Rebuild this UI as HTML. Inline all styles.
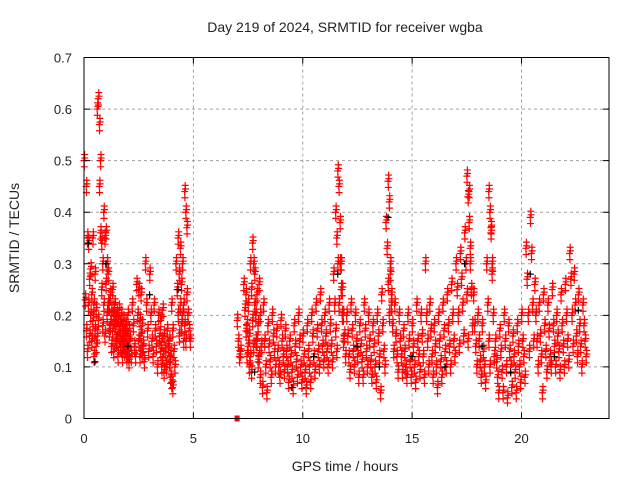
<!DOCTYPE html>
<html><head><meta charset="utf-8"><style>
body{margin:0;background:#fff}
svg{display:block;font-family:"Liberation Sans",sans-serif}
</style></head><body>
<svg id="chart" width="640" height="480" viewBox="0 0 640 480">
<rect width="640" height="480" fill="#fff"/>
<g id="grid"></g>
<g id="marks"></g>
<rect x="84" y="57.5" width="525" height="361" fill="none" stroke="#000" stroke-width="1"/>
<g id="ticks" font-size="13" fill="#222"></g>
<text x="345" y="32" text-anchor="middle" font-size="14" fill="#222">Day 219 of 2024, SRMTID for receiver wgba</text>
<text x="345" y="471" text-anchor="middle" font-size="14" fill="#222">GPS time / hours</text>
<text transform="translate(19,238) rotate(-90)" text-anchor="middle" font-size="14" fill="#222">SRMTID / TECUs</text>
</svg>
<script>
const xTicks=[0,5,10,15,20];
const yTicks=[0,0.1,0.2,0.3,0.4,0.5,0.6,0.7];
const yTickLabels=["0","0.1","0.2","0.3","0.4","0.5","0.6","0.7"];
const redTimes=[0,0.1,0.2,0.3,0.4,0.5,0.6,0.7,0.8,0.9,1.0,1.1,1.2,1.3,1.4,1.5,1.6,1.7,1.8,1.9,2.0,2.2,2.4,2.5,2.6,2.8,3.0,3.2,3.4,3.5,3.6,3.8,3.9,4.0,4.2,4.3,4.4,4.5,4.6,4.7,
7.0,7.3,7.4,7.5,7.6,7.7,7.8,7.9,8.0,8.2,8.4,8.6,8.8,9.0,9.2,9.4,9.6,9.8,10.0,10.2,10.4,10.6,10.8,11.0,11.2,11.4,11.5,11.6,11.7,11.8,12.0,12.2,12.4,12.6,12.8,13.0,13.2,13.4,13.6,13.8,13.9,14.0,14.2,14.4,14.6,14.8,15.0,15.2,15.4,15.6,15.8,16.0,16.2,16.4,16.6,16.8,17.0,17.2,17.4,17.5,17.6,17.8,18.0,18.2,18.4,18.5,18.6,18.8,19.0,19.2,19.4,19.6,19.8,20.0,20.2,20.4,20.6,20.8,21.0,21.2,21.4,21.6,21.8,22.0,22.2,22.4,22.6,22.8];
const redValues=[[.5,.23,.17,.13],[.45,.35,.22,.16],[.34,.27,.2,.15],[.29,.24,.19,.12],[.35,.22,.17,.14],[.28,.21,.16,.19],[.6,.62,.57,.5],[.45,.36,.25,.18],[.34,.3,.22,.16],[.4,.35,.26,.2],[.36,.3,.22,.17],[.28,.22,.18,.14],[.24,.2,.17,.13],[.25,.21,.18,.15],[.22,.19,.15,.12],[.2,.18,.16,.14],[.21,.18,.14,.12],[.2,.17,.15,.13],[.19,.16,.14,.12],[.18,.16,.13,.11],[.2,.17,.15,.12],[.22,.18,.14,.12],[.26,.2,.15,.12],[.25,.19,.16,.13],[.24,.18,.14,.11],[.3,.22,.17,.13],[.28,.2,.15,.12],[.22,.17,.14,.1],[.2,.16,.13,.1],[.19,.15,.12,.09],[.21,.16,.13,.1],[.17,.14,.11,.08],[.15,.12,.07,.06],[.22,.17,.13,.1],[.3,.25,.2,.16],[.35,.28,.22,.18],[.33,.26,.2,.15],[.3,.22,.18,.15],[.44,.4,.37,.2],[.24,.2,.17,.15],
[.19,.15,.12,.13],[.26,.21,.17,.12],[.24,.18,.14,.1],[.22,.16,.12,.09],[.3,.25,.19,.14],[.34,.3,.22,.15],[.28,.2,.15,.11],[.24,.18,.12,.08],[.26,.2,.14,.06],[.22,.15,.1,.05],[.18,.14,.11,.08],[.2,.16,.13,.1],[.17,.13,.1,.08],[.19,.15,.12,.09],[.17,.13,.1,.07],[.15,.12,.09,.06],[.18,.14,.11,.08],[.2,.15,.1,.07],[.16,.12,.09,.06],[.18,.13,.1,.07],[.2,.16,.12,.09],[.22,.17,.13,.1],[.24,.18,.14,.11],[.2,.16,.13,.1],[.22,.18,.14,.11],[.28,.22,.17,.13],[.4,.35,.3,.22],[.48,.45,.38,.3],[.3,.25,.2,.15],[.25,.2,.16,.12],[.2,.16,.12,.09],[.22,.17,.13,.1],[.2,.15,.12,.08],[.18,.14,.11,.08],[.22,.17,.13,.1],[.2,.15,.11,.08],[.18,.14,.1,.07],[.2,.16,.12,.05],[.24,.18,.13,.1],[.38,.33,.26,.2],[.46,.42,.3,.22],[.28,.24,.18,.13],[.22,.16,.12,.09],[.2,.15,.12,.09],[.17,.13,.1,.08],[.2,.15,.11,.08],[.18,.14,.1,.07],[.22,.15,.12,.09],[.2,.16,.12,.08],[.3,.2,.15,.1],[.22,.17,.12,.08],[.18,.14,.1,.06],[.2,.15,.11,.08],[.22,.17,.13,.1],[.24,.18,.14,.1],[.26,.2,.15,.12],[.3,.25,.2,.14],[.32,.27,.22,.16],[.36,.3,.24,.15],[.47,.43,.38,.3],[.44,.33,.25,.18],[.24,.18,.14,.1],[.2,.15,.11,.08],[.18,.13,.1,.07],[.3,.22,.15,.1],[.44,.4,.37,.28],[.36,.3,.2,.12],[.15,.11,.08,.05],[.17,.13,.09,.05],[.2,.15,.1,.04],[.18,.13,.1,.06],[.16,.12,.09,.05],[.18,.14,.1,.07],[.2,.15,.12,.08],[.33,.27,.2,.13],[.39,.32,.22,.15],[.26,.2,.15,.1],[.22,.16,.12,.05],[.24,.18,.13,.09],[.22,.17,.12,.1],[.25,.18,.14,.1],[.2,.16,.13,.09],[.24,.18,.14,.1],[.26,.2,.15,.11],[.32,.27,.2,.14],[.28,.22,.16,.12],[.24,.18,.14,.1],[.22,.18,.15,.12]];
const blackTimes=[0.2,0.5,1.0,2.0,3.0,4.3,7.8,9.5,10.5,11.6,12.5,13.5,13.9,15.0,16.5,17.4,18.2,19.5,20.4,21.5,22.6];
const blackValues=[0.34,0.11,0.3,0.14,0.24,0.25,0.09,0.06,0.12,0.28,0.14,0.1,0.39,0.12,0.1,0.3,0.14,0.09,0.28,0.12,0.21];
const squareTime=7.0, squareValue=0.0;

const X0=84,X1=609,Y0=418.5,Y1=57.5,XMAX=24,YMAX=0.7;
const sx=t=>X0+(X1-X0)*t/XMAX;
const sy=v=>Y0-(Y0-Y1)*v/YMAX;
const NS="http://www.w3.org/2000/svg";
const grid=document.getElementById('grid'),ticks=document.getElementById('ticks'),marks=document.getElementById('marks');
function mk(tag,attrs,parent){const e=document.createElementNS(NS,tag);for(const k in attrs)e.setAttribute(k,attrs[k]);parent.appendChild(e);return e;}
xTicks.forEach(t=>{
  const x=sx(t);
  if(t>0){const g=mk('line',{x1:x,x2:x,y1:Y1,y2:Y0,stroke:'#a0a0a0','stroke-dasharray':'3,3'},grid);
  
  }
  const tl=mk('path',{d:`M${x},${Y0}v-6M${x},${Y1}v6`,stroke:'#000'},ticks);
  
  
  const tx=mk('text',{x:x,y:443,'text-anchor':'middle'},ticks);tx.textContent=String(t);
  
  
});
yTicks.forEach((v,i)=>{
  const y=sy(v);
  if(v>0&&v<0.7){const g=mk('line',{x1:X0,x2:X1,y1:y,y2:y,stroke:'#a0a0a0','stroke-dasharray':'3,3'},grid);
  
  }
  const tl=mk('path',{d:`M${X0},${y}h6M${X1},${y}h-6`,stroke:'#000'},ticks);
  
  
  const tx=mk('text',{x:72,y:y+5,'text-anchor':'end'},ticks);tx.textContent=yTickLabels[i];
  
  
});
function plus(t,v,color){
  const x=sx(t),y=sy(v);
  const p=mk('path',{d:`M${x-3.5},${y}h7M${x},${y-3.5}v7`,stroke:color,'stroke-width':1.2},marks);
  
  
}
// each estimated value is drawn as a small cluster to mimic the dense sampling
const clusterDt=[0,0.025,0.012,0.037];
const clusterDv=[0,0.012,-0.012,0.005];
redTimes.forEach((t,i)=>{
  redValues[i].forEach((v,j)=>{
    clusterDt.forEach((dt,k)=>plus(t+j*0.05+dt,Math.max(0.03,v+clusterDv[k]*(k%2?1:1)),'#f00'));
  });
});
blackTimes.forEach((t,i)=>plus(t,blackValues[i],'#000'));
const sq=mk('rect',{x:sx(squareTime)-2.5,y:sy(squareValue)-3,width:5,height:6,fill:'#f00'},marks);


</script>
</body></html>
